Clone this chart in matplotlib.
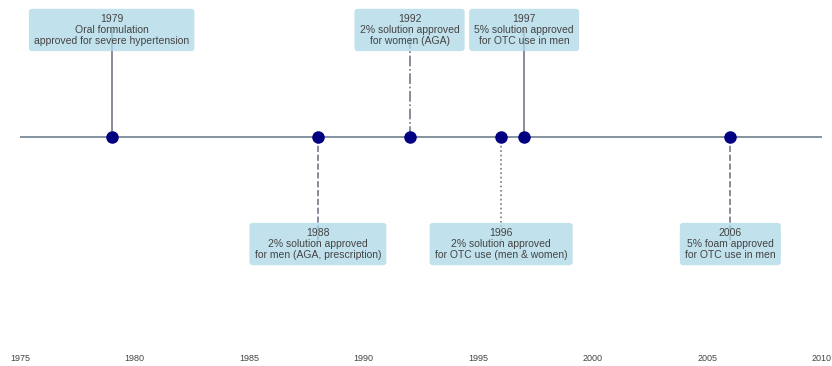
import matplotlib
matplotlib.use("Agg")
import matplotlib.pyplot as plt

years = [1979, 1988, 1992, 1996, 1997, 2006]
labels = [
    "1979\nOral formulation\napproved for severe hypertension",
    "1988\n2% solution approved\nfor men (AGA, prescription)",
    "1992\n2% solution approved\nfor women (AGA)",
    "1996\n2% solution approved\nfor OTC use (men & women)",
    "1997\n5% solution approved\nfor OTC use in men",
    "2006\n5% foam approved\nfor OTC use in men",
]
levels = [1, -1, 1, -1, 1, -1]
styles = ["-", "--", "-.", ":", "-", "--"]
tick_years = [1975, 1980, 1985, 1990, 1995, 2000, 2005, 2010]

plt.rcParams['font.family'] = ['Liberation Sans', 'DejaVu Sans']

fig = plt.figure(figsize=(8.32, 3.66), dpi=100)
ax = fig.add_axes([20/832, 16/366, 802/832, 350/366])
ax.set_xlim(1975, 2010)
ax.set_ylim(-1.99, 1.28)

ax.axhline(0, color="#708090", lw=1.2, zorder=1)
for y, lab, lev, ls in zip(years, labels, levels, styles):
    ax.plot([y, y], [0, lev], color="#777788", lw=1.2, ls=ls, zorder=2)
    ax.plot(y, 0, "o", color="navy", markersize=8, zorder=4)
    ax.text(y, lev, lab, ha="center", va="center", fontsize=7.5, color="#444444",
            linespacing=1.12, zorder=3,
            bbox=dict(boxstyle="round,pad=0.5,rounding_size=0.3", fc="lightblue",
                      ec="none", alpha=0.75))

ax.set_xticks(tick_years)
ax.set_xticklabels([str(t) for t in tick_years], fontsize=6.5, color="#444444")
ax.tick_params(axis="x", length=0, pad=3)
ax.set_yticks([])
for s in ax.spines.values():
    s.set_visible(False)

fig.savefig("out.png", dpi=100)
